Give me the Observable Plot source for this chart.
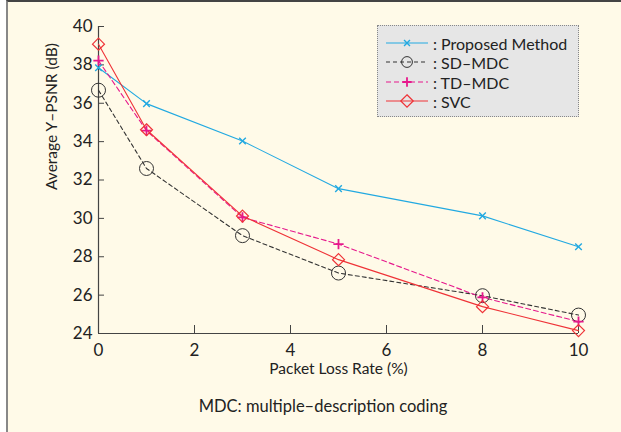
<!DOCTYPE html>
<html>
<head>
<meta charset="utf-8">
<script src="https://cdn.jsdelivr.net/npm/d3@7"></script>
<script src="https://cdn.jsdelivr.net/npm/@observablehq/plot@0.6"></script>
<style>
  html, body { margin: 0; padding: 0; background: #ffffff; }
  #page { position: relative; width: 621px; height: 432px; overflow: hidden; font-family: Lato, "Noto Sans", sans-serif; }
  #frame { position: absolute; left: 6px; top: 0; width: 615px; height: 432px; box-sizing: border-box;
           background: #fffae8; border-top: 2px solid #444; border-left: 2px solid #888; }
  #chart { position: absolute; left: 0; top: 0; }
  #legend { position: absolute; left: 377px; top: 25px; width: 202px; height: 92px; box-sizing: border-box;
            background: #e6e6e6; border: 1px dotted #888; }
  .item { position: absolute; left: 8px; height: 20px; display: flex; align-items: center; font-size: 16px; color: #222; white-space: nowrap; }
  .item svg { margin-right: 5px; }
  #caption { position: absolute; left: 0; width: 646px; top: 396px; text-align: center; font-size: 16.5px; color: #222; }
</style>
</head>
<body>
<div id="page">
  <div id="frame"></div>
  <div id="chart"></div>
  <div id="legend"></div>
  <div id="caption"></div>
</div>
<script>
// ---- data ----
const lossRate = [0, 1, 3, 5, 8, 10];
const proposed = [37.85, 35.98, 34.03, 31.55, 30.13, 28.52];
const sdMdc    = [36.68, 32.60, 29.10, 27.15, 25.97, 24.96];
const tdMdc    = [38.22, 34.57, 30.05, 28.66, 25.88, 24.62];
const svc      = [39.08, 34.62, 30.12, 27.85, 25.40, 24.15];
const seriesLabels = [": Proposed Method", ": SD\u2013MDC", ": TD\u2013MDC", ": SVC"];
const xTicks = [0, 2, 4, 6, 8, 10];
const yTicks = [24, 26, 28, 30, 32, 34, 36, 38, 40];
const xLabel = "Packet Loss Rate (%)";
const yLabel = "Average Y\u2013PSNR (dB)";
const captionText = "MDC: multiple\u2013description coding";

// ---- styles ----
const styles = [
  {stroke: "#22a9e1", dash: null, symbol: "times", r: 3.1, lr: 2.8, sw: 1.4},
  {stroke: "#333333", dash: "4,3", symbol: "circle", r: 7, lr: 5.4, sw: 1},
  {stroke: "#e6188c", dash: "5,3", symbol: "plus", r: 3.4, lr: 3.1, sw: 1.8},
  {stroke: "#ef3237", dash: null, symbol: "diamond2", r: 5.4, lr: 5.6, sw: 1.2}
];
const seriesValues = [proposed, sdMdc, tdMdc, svc];

const rows = [];
seriesValues.forEach((vals, i) => vals.forEach((v, j) => rows.push({s: i, x: lossRate[j], y: v})));

const W = 621, H = 390;
const mL = 98, mR = 43, mT = 26, mB = H - 333;
const plotW = W - mL - mR, plotH = H - mT - mB;

const marks = [];
// axis lines
marks.push(Plot.ruleX([0], {stroke: "#444", strokeWidth: 1.2}));
marks.push(Plot.ruleY([24], {stroke: "#444", strokeWidth: 1.2}));
// inward ticks
marks.push(Plot.tickY(yTicks.filter(d => d > 24), {y: d => d, stroke: "#444", insetRight: plotW - 6}));
marks.push(Plot.tickX(xTicks.filter(d => d > 0), {x: d => d, stroke: "#444", insetTop: plotH - 8}));
marks.push(Plot.axisX({ticks: xTicks, tickSize: 0, tickPadding: 10, label: null, fontSize: 17}));
marks.push(Plot.axisY({ticks: yTicks, tickSize: 0, tickPadding: 6, label: null, fontSize: 17}));
// axis labels
marks.push(Plot.text([xLabel], {text: d => d, frameAnchor: "bottom", dy: 40, fontSize: 15.5, fill: "#222"}));
marks.push(Plot.text([yLabel], {text: d => d, frameAnchor: "left", rotate: -90, dx: -46, dy: 10, fontSize: 15.5, fill: "#222"}));

styles.forEach((st, i) => {
  const data = rows.filter(r => r.s === i);
  marks.push(Plot.line(data, {x: "x", y: "y", stroke: st.stroke, strokeWidth: 1.1, strokeDasharray: st.dash}));
});
styles.forEach((st, i) => {
  const data = rows.filter(r => r.s === i);
  marks.push(Plot.dot(data, {x: "x", y: "y", symbol: () => st.symbol, r: st.r, stroke: st.stroke, fill: "none", strokeWidth: st.sw}));
});

const chart = Plot.plot({
  width: W, height: H,
  marginLeft: mL, marginRight: mR, marginTop: mT, marginBottom: mB,
  style: {background: "transparent", fontFamily: "Lato, 'Noto Sans', sans-serif", fontSize: "17px", color: "#222", overflow: "visible"},
  x: {domain: [0, 10]},
  y: {domain: [24, 40]},
  symbol: {type: "identity"},
  marks
});
document.getElementById("chart").appendChild(chart);

// ---- legend ----
const legend = document.getElementById("legend");
const rowTops = [7, 26, 46, 65];
styles.forEach((st, i) => {
  const div = document.createElement("div");
  div.className = "item";
  div.style.top = rowTops[i] + "px";
  const ns = "http://www.w3.org/2000/svg";
  const svg = document.createElementNS(ns, "svg");
  svg.setAttribute("width", 42); svg.setAttribute("height", 20);
  const line = document.createElementNS(ns, "line");
  line.setAttribute("x1", 0); line.setAttribute("x2", 42);
  line.setAttribute("y1", 10); line.setAttribute("y2", 10);
  line.setAttribute("stroke", st.stroke); line.setAttribute("stroke-width", 1.1);
  if (st.dash) line.setAttribute("stroke-dasharray", st.dash);
  svg.appendChild(line);
  const symType = {times: d3.symbolTimes, circle: d3.symbolCircle, plus: d3.symbolPlus, diamond2: d3.symbolDiamond2}[st.symbol];
  const p = document.createElementNS(ns, "path");
  p.setAttribute("d", d3.symbol(symType, Math.PI * st.lr * st.lr)());
  p.setAttribute("transform", "translate(21,10)");
  p.setAttribute("fill", "none"); p.setAttribute("stroke", st.stroke); p.setAttribute("stroke-width", st.sw);
  svg.appendChild(p);
  div.appendChild(svg);
  const span = document.createElement("span");
  span.textContent = seriesLabels[i];
  div.appendChild(span);
  legend.appendChild(div);
});

document.getElementById("caption").textContent = captionText;
</script>
</body>
</html>
